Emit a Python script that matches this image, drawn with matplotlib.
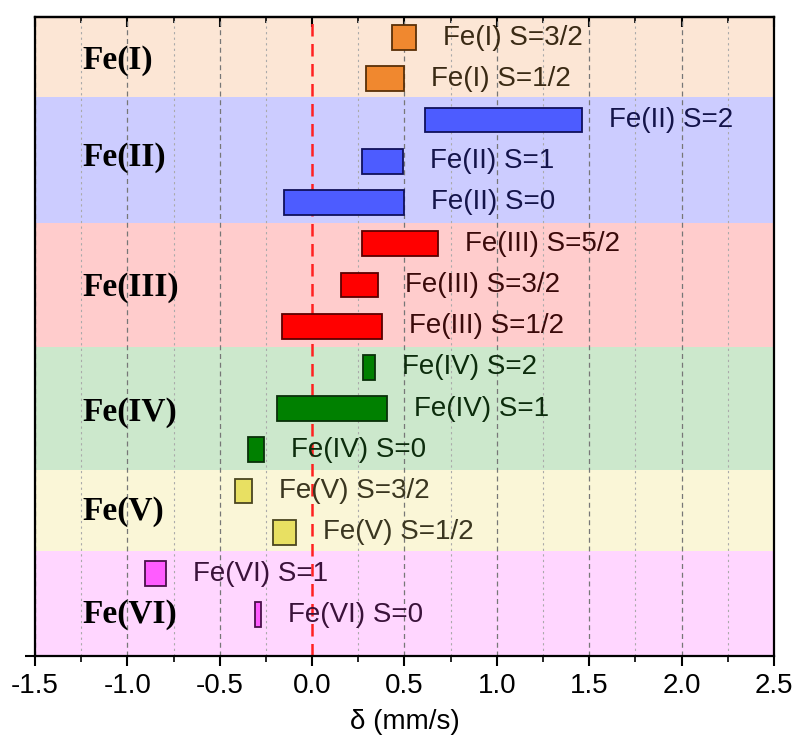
import matplotlib
matplotlib.use("Agg")
import matplotlib.pyplot as plt
from matplotlib.ticker import MultipleLocator

# ---- data ----
labels = ["Fe(I) S=3/2", "Fe(I) S=1/2",
          "Fe(II) S=2", "Fe(II) S=1", "Fe(II) S=0",
          "Fe(III) S=5/2", "Fe(III) S=3/2", "Fe(III) S=1/2",
          "Fe(IV) S=2", "Fe(IV) S=1", "Fe(IV) S=0",
          "Fe(V) S=3/2", "Fe(V) S=1/2",
          "Fe(VI) S=1", "Fe(VI) S=0"]
delta_min = [0.43, 0.29,
             0.61, 0.27, -0.15,
             0.27, 0.155, -0.165,
             0.275, -0.19, -0.345,
             -0.42, -0.21,
             -0.905, -0.31]
delta_max = [0.56, 0.50,
             1.46, 0.49, 0.50,
             0.68, 0.355, 0.38,
             0.34, 0.405, -0.26,
             -0.325, -0.085,
             -0.79, -0.275]
group_of_row = [0, 0, 1, 1, 1, 2, 2, 2, 3, 3, 3, 4, 4, 5, 5]
groups = ["Fe(I)", "Fe(II)", "Fe(III)", "Fe(IV)", "Fe(V)", "Fe(VI)"]
band_bottom = [13.55, 10.5, 7.5, 4.5, 2.55, 0.0]
band_top = [15.5, 13.55, 10.5, 7.5, 4.5, 2.55]
group_label_y = [14.45, 12.08, 8.95, 5.9, 3.5, 1.0]

band_colors = ["#FCE6D5", "#CCCCFF", "#FFCCCC", "#CCE8CC", "#FAF6D7", "#FFD6FF"]
bar_colors = ["#F0882F", "#4D5CFF", "#FF0000", "#008000", "#E8E062", "#FF5CFF"]
edge_colors = ["#5A3008", "#10105A", "#5A0000", "#0A300A", "#4A4520", "#4A104A"]
text_colors = ["#3A2A14", "#14144A", "#3A0A0A", "#0C2C0C", "#3A3620", "#3A123A"]

xticks = [-1.5, -1.0, -0.5, 0.0, 0.5, 1.0, 1.5, 2.0, 2.5]

fig = plt.figure(figsize=(7.95, 7.35), dpi=100)
ax = fig.add_axes([0.044, 0.1075, 0.9296, 0.8694])

n = len(labels)
ypos = [n - i for i in range(n)]

for g in range(len(groups)):
    ax.axhspan(band_bottom[g], band_top[g], color=band_colors[g], lw=0, zorder=0)

# grid
for x in [-1.5 + 0.25 * k for k in range(17)]:
    major = abs((x * 2) - round(x * 2)) < 1e-9
    if abs(x) < 1e-9:
        continue
    ax.axvline(x, color="#777777" if major else "#AAAAAA",
               ls=(0, (4, 3)) if major else (0, (2, 3)),
               lw=0.9 if major else 0.8, zorder=1)
ax.axvline(0, color="#FF2020", ls=(0, (5, 3)), lw=1.8, zorder=1.5)

for i in range(n):
    g = group_of_row[i]
    w = delta_max[i] - delta_min[i]
    ax.barh(ypos[i], w, left=delta_min[i], height=0.6,
            color=bar_colors[g], edgecolor=edge_colors[g], lw=1.3, zorder=3)
    ax.annotate(labels[i], xy=(delta_max[i], ypos[i]), xytext=(27, 0),
                textcoords="offset pixels", va="center", ha="left",
                fontsize=20, family="Liberation Sans", color=text_colors[g],
                zorder=4)

for g in range(len(groups)):
    ax.text(-1.245, group_label_y[g], groups[g], fontsize=24, fontweight="bold",
            family="Liberation Serif", va="center", ha="left", color="black",
            zorder=4)

ax.set_xlim(-1.5, 2.5)
ax.set_ylim(0, 15.5)
ax.set_xticks(xticks)
ax.set_xticklabels([f"{v:.1f}" for v in xticks], family="Liberation Sans", fontsize=20)
ax.xaxis.set_minor_locator(MultipleLocator(0.25))
ax.set_yticks([0])
ax.set_yticklabels([""])
ax.tick_params(axis="y", length=7, width=1.5, direction="out")
ax.tick_params(axis="x", which="major", length=7.5, width=1.5, direction="out", pad=5)
ax.tick_params(axis="x", which="minor", length=4, width=1.2, direction="out")
ax.set_xlabel("δ (mm/s)", family="Liberation Sans", fontsize=20, labelpad=7)

for s in ax.spines.values():
    s.set_linewidth(1.6)
    s.set_zorder(5)

# top ticks pointing inward
sec = ax.secondary_xaxis("top")
sec.set_xticks(xticks)
sec.set_xticklabels([])
sec.xaxis.set_minor_locator(MultipleLocator(0.25))
sec.tick_params(which="major", direction="in", length=7, width=1.5)
sec.tick_params(which="minor", direction="in", length=4, width=1.2)
sec.spines["top"].set_linewidth(1.6)

fig.savefig("out.png", dpi=100)
